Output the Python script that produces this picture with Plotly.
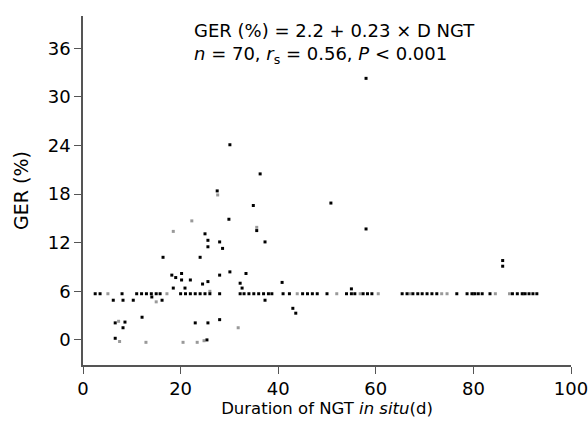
import plotly.graph_objects as go

# points lying on the dense row near GER 5.7 %
row_black_x = [2.5, 3.5, 8, 11, 12, 13, 14, 15, 15.8, 20, 21, 22, 23, 24, 25, 26, 28,
               32.2, 33, 34, 35, 36, 37, 38, 38.7, 41, 42.3, 45, 46, 47, 48, 50, 54, 55,
               55.7, 57.4, 58.3, 59.2, 65.4, 66.4, 67.6, 68.6, 69.5, 70.5, 71.5, 72.5,
               76.6, 78.7, 79.7, 80.3, 81, 81.8, 83.4, 88, 89, 90, 90.6, 91.4, 92.2, 93]
row_gray_x = [5.1, 17.2, 43.9, 52, 56.8, 60.5, 67, 73.5, 74.6, 80, 84.5, 87.4, 90.2]
row_y = 5.7

# scattered points (duration d, GER %)
black_x = [58, 30.1, 36.3, 27.5, 34.9, 50.8, 58, 86, 86, 43.6, 40.8, 29.9, 35.6,
           25, 25.6, 28, 37.3, 25.6, 28.6, 16.4, 24, 18.2, 20.2, 28, 30.1, 33.4,
           20.2, 25.6, 32.2, 18.5, 20.9, 32.6, 55, 6.2, 8.2, 10.3, 14.1, 16.2, 37.3,
           43, 6.6, 8.6, 8.2, 12.1, 23, 25.6, 28, 6.6, 25.4, 19, 24.5, 22]
black_y = [32.3, 24.1, 20.5, 18.4, 16.6, 16.9, 13.7, 9.8, 9.1, 3.3, 7.1, 14.9, 13.5,
           13.1, 12.3, 12.1, 12.1, 11.5, 11.3, 10.2, 10.2, 8.0, 8.2, 8.0, 8.4, 8.2,
           7.4, 7.2, 7.0, 6.4, 6.4, 6.4, 6.3, 4.9, 4.9, 4.9, 5.3, 4.9, 4.9,
           3.9, 2.1, 2.2, 1.5, 2.8, 2.1, 2.1, 2.5, 0.2, 0.0, 7.7, 6.9, 7.4]
gray_x = [22.3, 15, 7.3, 31.8, 7.5, 12.9, 20.5, 23.4, 24.8, 27.6, 18.5, 35.6, 26]
gray_y = [14.7, 4.7, 2.3, 1.5, -0.2, -0.3, -0.3, -0.3, -0.1, 17.9, 13.4, 13.9, 6.0]

x_ticks = [0, 20, 40, 60, 80, 100]
y_ticks = [0, 6, 12, 18, 24, 30, 36]

font = "DejaVu Sans"

fig = go.Figure()
fig.add_trace(go.Scatter(x=row_gray_x + gray_x, y=[row_y] * len(row_gray_x) + gray_y,
                         mode="markers",
                         marker=dict(symbol="square", size=3, color="#999999", line=dict(width=0))))
fig.add_trace(go.Scatter(x=row_black_x + black_x, y=[row_y] * len(row_black_x) + black_y,
                         mode="markers",
                         marker=dict(symbol="square", size=3, color="#000000", line=dict(width=0))))

fig.add_annotation(x=0.223, y=0.995, xref="paper", yref="paper", xanchor="left", yanchor="top",
                   align="left", showarrow=False,
                   text="GER (%) = 2.2 + 0.23 × D NGT<br><i>n</i> = 70, <i>r</i><sub>s</sub> = 0.56, <i>P</i> &lt; 0.001",
                   font=dict(family=font, size=18, color="#000"))

fig.update_layout(
    width=588, height=428,
    margin=dict(l=83, r=17, t=16, b=63),
    plot_bgcolor="white", paper_bgcolor="white",
    showlegend=False,
    font=dict(family=font, color="#000"),
    xaxis=dict(range=[0, 100], tickvals=x_ticks, showgrid=False, zeroline=False,
               showline=True, linecolor="#555555", linewidth=1.5, automargin=False,
               ticks="outside", ticklen=7, tickcolor="#555555",
               tickfont=dict(size=18), ticklabeloverflow="allow",
               title=dict(text="Duration of NGT <i>in situ</i>(d)", font=dict(size=16.5), standoff=4)),
    yaxis=dict(range=[-3.1, 40], tickvals=y_ticks, showgrid=False, zeroline=False,
               showline=True, linecolor="#555555", linewidth=1.5, automargin=False,
               ticks="outside", ticklen=7, tickcolor="#555555",
               tickfont=dict(size=18),
               title=dict(text="GER (%)", font=dict(size=19), standoff=14)),
)

# drop the default 8px page margin so the figure fills the window
fig.write_html("out.html", config={"displayModeBar": False},
               post_script="document.body.style.margin='0';")
